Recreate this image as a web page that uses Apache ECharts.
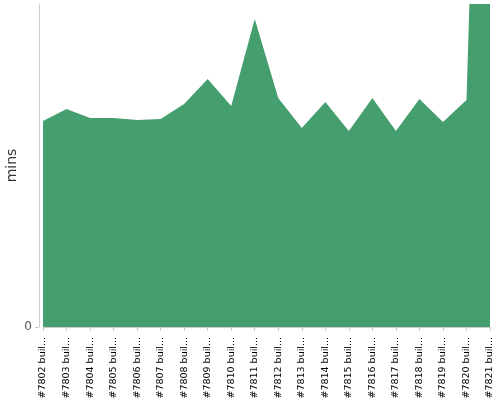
<!DOCTYPE html>
<html>
<head>
<meta charset="utf-8">
<script src="https://cdn.jsdelivr.net/npm/echarts@6/dist/echarts.min.js"></script>
<style>
  html, body { margin: 0; padding: 0; background: #fff; }
  #chart { width: 500px; height: 400px; }
</style>
</head>
<body>
<div id="chart"></div>
<script>
// build names on the x axis
const builds = [
  '#7802 build', '#7803 build', '#7804 build', '#7805 build', '#7806 build',
  '#7807 build', '#7808 build', '#7809 build', '#7810 build', '#7811 build',
  '#7812 build', '#7813 build', '#7814 build', '#7815 build', '#7816 build',
  '#7817 build', '#7818 build', '#7819 build', '#7820 build', '#7821 build'
].map(n => n + ' (master)')
// build duration, minutes
const durations = [
  12.75, 13.5, 12.94, 12.94, 12.82,
  12.88, 13.81, 15.36, 13.68, 19.07,
  14.18, 12.32, 13.93, 12.14, 14.18,
  12.14, 14.12, 12.69, 14.06, 61.6
]
const yMax = 20

const chart = echarts.init(document.getElementById('chart'))
chart.setOption({
  animation: false,
  grid: {
    left: 43,
    right: 10,
    top: 4,
    bottom: 73,
    containLabel: false,
    outerBoundsMode: 'none'
  },
  xAxis: {
    type: 'category',
    data: builds,
    boundaryGap: false,
    offset: 4,
    axisLine: { lineStyle: { color: '#ccc' } },
    axisTick: { alignWithLabel: true, length: 4, lineStyle: { color: '#ccc' } },
    axisLabel: {
      rotate: 90,
      interval: 0,
      fontSize: 9.5,
      fontFamily: 'DejaVu Sans',
      color: '#000',
      margin: 6,
      width: 64,
      overflow: 'truncate'
    }
  },
  yAxis: {
    type: 'value',
    min: 0,
    max: yMax,
    interval: yMax,
    offset: 4,
    name: 'mins',
    nameLocation: 'middle',
    nameGap: 20,
    nameMoveOverlap: false,
    nameTextStyle: { fontSize: 14, color: '#333', fontFamily: 'DejaVu Sans' },
    axisLine: { show: true, lineStyle: { color: '#ccc' } },
    axisTick: { show: true, length: 4, lineStyle: { color: '#ccc' } },
    axisLabel: { showMaxLabel: false, margin: 7, fontSize: 12, color: '#555', fontFamily: 'DejaVu Sans' },
    splitLine: { show: false }
  },
  series: [{
    type: 'line',
    data: durations,
    symbol: 'none',
    clip: true,
    lineStyle: { width: 0 },
    areaStyle: { color: '#459e6e', opacity: 1 }
  }]
})
</script>
</body>
</html>
